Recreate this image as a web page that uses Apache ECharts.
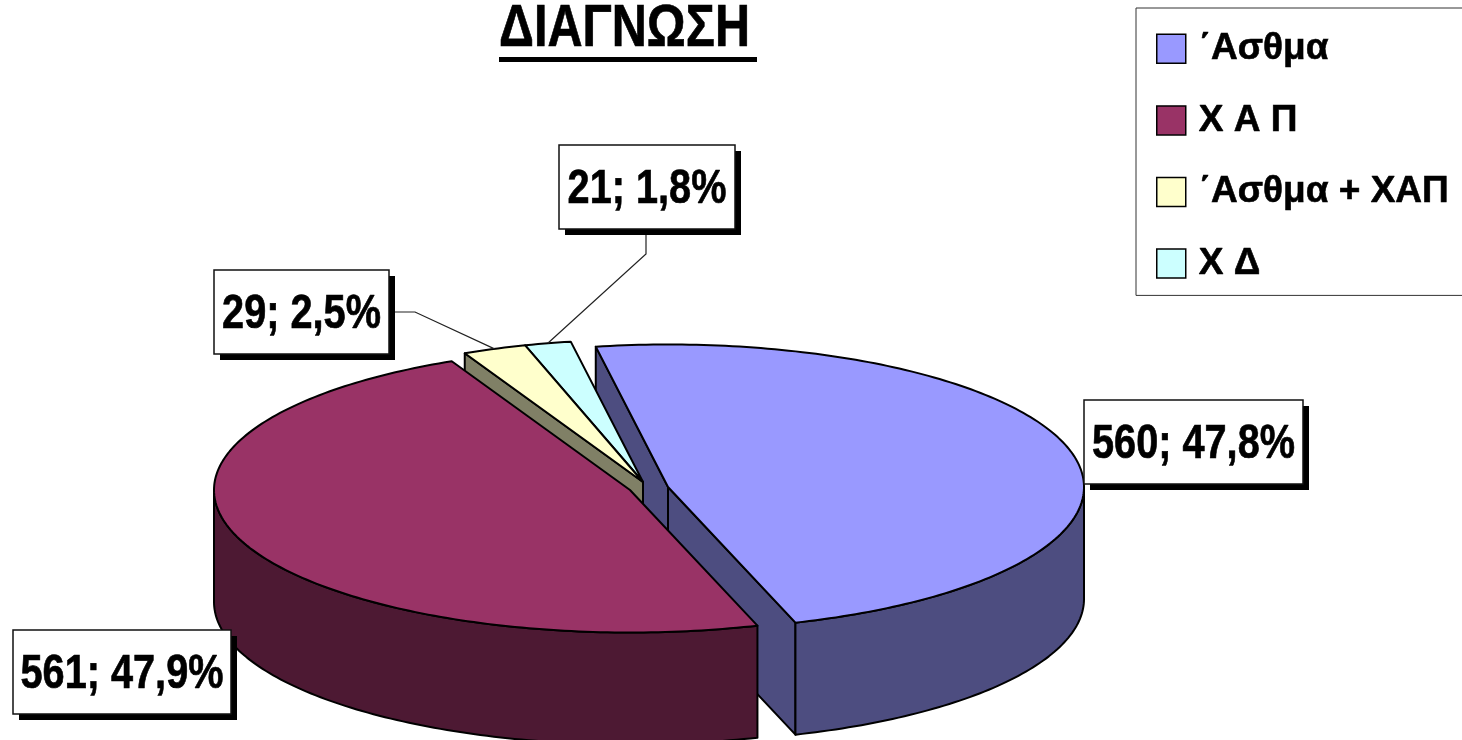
<!DOCTYPE html>
<html><head><meta charset="utf-8">
<style>html,body{margin:0;padding:0;background:#fff}#c{width:1462px;height:740px}</style>
<script src="https://cdn.jsdelivr.net/npm/echarts@6/dist/echarts.min.js"></script>
</head><body><div id="c"></div>
<script>
const titleText = 'ΔΙΑΓΝΩΣΗ';
const categories = ['΄Ασθμα', 'Χ Α Π', '΄Ασθμα + ΧΑΠ', 'Χ Δ'];
const values = [560, 561, 29, 21];
const topColors = ['#9999FF', '#993366', '#FFFFCC', '#CCFFFF'];
const sideColors = ['#4D4D80', '#4D1933', '#808066', '#668080'];
const drawOrder = [0, 3, 2, 1];

// layout of the tilted pie
const START_DEG = -10, RX = 416, RY = 142.5, DEPTH = 112;
const centers = [[668, 487], [630, 490], [643, 482], [643, 482]];
const labelBoxes = [[1084, 400], [13, 630], [214, 270], [559, 145]];
const labelWidths = [219, 218, 175, 176];
const BOX_H = 84, SHADOW = 6, TEXT_SCALE = 0.81;
const leaderKnees = [null, null, [[395, 312], [415, 312]], [[646, 235], [646, 254]]];

const total = values.reduce((a, b) => a + b, 0);
function angles(i) {
  let s = START_DEG;
  for (let k = 0; k < i; k++) s += values[k] / total * 360;
  return [s, s + values[i] / total * 360];
}
const rad = d => d * Math.PI / 180;
function pt(c, deg) { return [c[0] + RX * Math.sin(rad(deg)), c[1] - RY * Math.cos(rad(deg))]; }
function arc(c, a, b) {
  const out = [];
  const n = Math.max(2, Math.ceil(Math.abs(b - a)));
  for (let j = 0; j <= n; j++) out.push(pt(c, a + (b - a) * j / n));
  return out;
}
const down = p => [p[0], p[1] + DEPTH];
const labelText = i => values[i] + '; ' + (values[i] / total * 100).toFixed(1).replace('.', ',') + '%';

function poly(points, fill, z2) {
  return { type: 'polygon', z2, shape: { points }, style: { fill, stroke: '#000', lineWidth: 2, lineJoin: 'round' }, silent: true };
}

function renderSlice(params, api) {
  const i = drawOrder[params.seriesIndex];
  const [a, b] = angles(i);
  const c = centers[i];
  const children = [];
  const p0 = pt(c, a), p1 = pt(c, b);
  // radial walls that face the viewer
  const wall = (p, q) => poly([p, q, down(q), down(p)], sideColors[i], 1);
  if (i === 0 || i === 2) children.push(wall(p0, c));
  if (i === 0) children.push(wall(c, p1));
  // rim wall on the near half of the ellipse
  const lo = Math.max(a, 90), hi = Math.min(b, 270);
  if (hi > lo && api.value(0) > 0) {
    const rim = arc(c, lo, hi);
    children.push(poly(rim.concat(rim.slice().reverse().map(down)), sideColors[i], 2));
  }
  // top surface
  children.push(poly([c].concat(arc(c, a, b)), topColors[i], 3));
  return { type: 'group', children };
}

function renderLabel(params, api) {
  const i = api.value(0);
  const [x, y] = labelBoxes[i], w = labelWidths[i];
  const children = [];
  const knees = leaderKnees[i];
  if (knees) {
    const [a, b] = angles(i);
    const tip = pt(centers[i], (a + b) / 2);
    children.push({ type: 'polyline', shape: { points: knees.concat([tip]) }, style: { fill: 'none', stroke: '#222', lineWidth: 1.2 }, silent: true });
  }
  children.push({ type: 'rect', shape: { x: x + SHADOW, y: y + SHADOW, width: w, height: BOX_H }, style: { fill: '#000' }, silent: true });
  children.push({ type: 'rect', shape: { x, y, width: w, height: BOX_H }, style: { fill: '#fff', stroke: '#111', lineWidth: 1.5 }, silent: true });
  children.push({ type: 'text', x: x + w / 2, y: y + BOX_H / 2 + 2, scaleX: TEXT_SCALE, style: { text: labelText(i), x: 0, y: 0, align: 'center', verticalAlign: 'middle', fontFamily: '"Liberation Sans"', fontWeight: 'bold', fontSize: 49, fill: '#000', stroke: '#000', lineWidth: 0.7 }, silent: true });
  return { type: 'group', children };
}

const series = drawOrder.map(i => ({
  type: 'custom', name: categories[i], coordinateSystem: 'none', silent: true, animation: false,
  itemStyle: { color: topColors[i] },
  data: [[values[i]]],
  renderItem: renderSlice
}));
series.push({
  type: 'custom', name: 'labels', coordinateSystem: 'none', silent: true, animation: false, z: 5,
  data: values.map((v, i) => [i]),
  renderItem: renderLabel
});

const chart = echarts.init(document.getElementById('c'), null, { renderer: 'canvas' });
chart.setOption({
  animation: false,
  backgroundColor: '#fff',
  legend: {
    data: categories, orient: 'vertical', left: 1136, top: 8,
    padding: [22, 60, 13, 20], itemWidth: 29, itemHeight: 29, itemGap: 34,
    backgroundColor: '#fff', borderColor: '#333', borderWidth: 1,
    icon: 'rect', selectedMode: false,
    itemStyle: { borderColor: '#000', borderWidth: 1.5 },
    textStyle: { fontFamily: '"Liberation Sans"', fontWeight: 'bold', fontSize: 37, color: '#000', padding: [0, 0, 0, 8], textBorderColor: '#000', textBorderWidth: 0.6 }
  },
  graphic: [
    { type: 'text', silent: true, x: 499, y: 29, scaleX: 0.81, style: { text: titleText, x: 0, y: 0, align: 'left', verticalAlign: 'middle', fontFamily: '"Liberation Sans"', fontWeight: 'bold', fontSize: 60, fill: '#000', stroke: '#000', lineWidth: 0.7 } },
    { type: 'rect', silent: true, shape: { x: 499, y: 57, width: 258, height: 5 }, style: { fill: '#000' } }
  ],
  series
});
</script></body></html>
